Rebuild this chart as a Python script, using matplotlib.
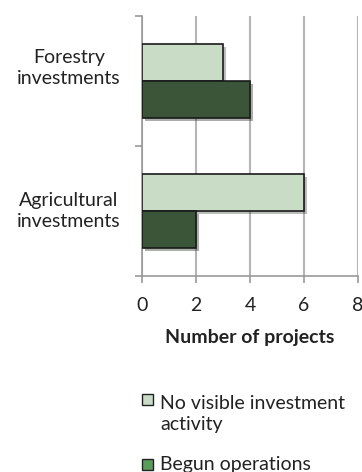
import matplotlib
matplotlib.use("Agg")
import matplotlib.pyplot as plt
import matplotlib.patheffects as pe
import matplotlib.transforms as mtransforms
from matplotlib.patches import Rectangle
import numpy as np

# data
categories = ["Agricultural\ninvestments", "Forestry\ninvestments"]
no_activity = [6, 3]
begun_ops = [2, 4]
series_names = ["No visible investment\nactivity", "Begun operations"]
xticks = [0, 2, 4, 6, 8]

light = "#c8dcc6"
dark = "#3a5538"
legend_dark = "#5a9c5a"
txt = "#222222"

plt.rcParams['font.family'] = ['Lato', 'DejaVu Sans']

W, H = 362, 472
fig = plt.figure(figsize=(W/100, H/100), dpi=100)
ax = fig.add_axes([142/W, 1-276/H, 216/W, 260/H])

pos = np.arange(len(categories))
h = 0.285
shadow = [pe.SimplePatchShadow(offset=(2, -2), alpha=0.35), pe.Normal()]
b1 = ax.barh(pos + h/2, no_activity, height=h, color=light, edgecolor="#1a1a1a", linewidth=1.2, zorder=3)
b2 = ax.barh(pos - h/2, begun_ops, height=h, color=dark, edgecolor="#1a1a1a", linewidth=1.2, zorder=3)
for b in list(b1) + list(b2):
    b.set_path_effects(shadow)

ax.set_xlim(0, 8)
ax.set_ylim(-0.5, 1.5)
ax.set_xticks(xticks)
ax.set_xticklabels([str(t) for t in xticks], fontsize=14, color=txt)
ax.set_yticks([-0.5, 0.5, 1.5])
ax.set_yticklabels([])
ax.tick_params(axis="y", which="major", length=5, color="#999999", width=1.2)
ax.tick_params(axis="x", length=5, color="#999999", width=1.2, pad=10)

# category labels (forestry label sits a little above its band, as in the original)
lab_dy = [0, 9.5]
for i, lab in enumerate(categories):
    tr = ax.get_yaxis_transform() + mtransforms.ScaledTranslation(-73/100, lab_dy[i]/72, fig.dpi_scale_trans)
    ax.text(0, pos[i], lab, transform=tr, ha="center", va="center", fontsize=14,
            color=txt, linespacing=1.3)

ax.grid(axis="x", color="#b5b5b5", linewidth=1.5, zorder=0)
for s in ["top", "right"]:
    ax.spines[s].set_visible(False)
for s in ["left", "bottom"]:
    ax.spines[s].set_color("#999999")
    ax.spines[s].set_linewidth(1.2)

ax.set_xlabel("Number of projects", fontsize=14, fontweight="bold", labelpad=11, color=txt)

# legend drawn by hand so the swatch sits on the first text line
leg_colors = [light, legend_dark]
leg_y = [405, 470]  # baseline of first line, px from top
line_px = 1.3 * 14 * 100 / 72
for name, c, y in zip(series_names, leg_colors, leg_y):
    fig.patches.append(Rectangle((142/W, 1-y/H), 11/W, 11/H, transform=fig.transFigure,
                                 facecolor=c, edgecolor="#222222", linewidth=1))
    last = y + line_px * name.count("\n")
    fig.text(160/W, 1-last/H, name, ha="left", va="baseline", fontsize=14, color=txt,
             linespacing=1.3)

fig.savefig("out.png", dpi=100)
